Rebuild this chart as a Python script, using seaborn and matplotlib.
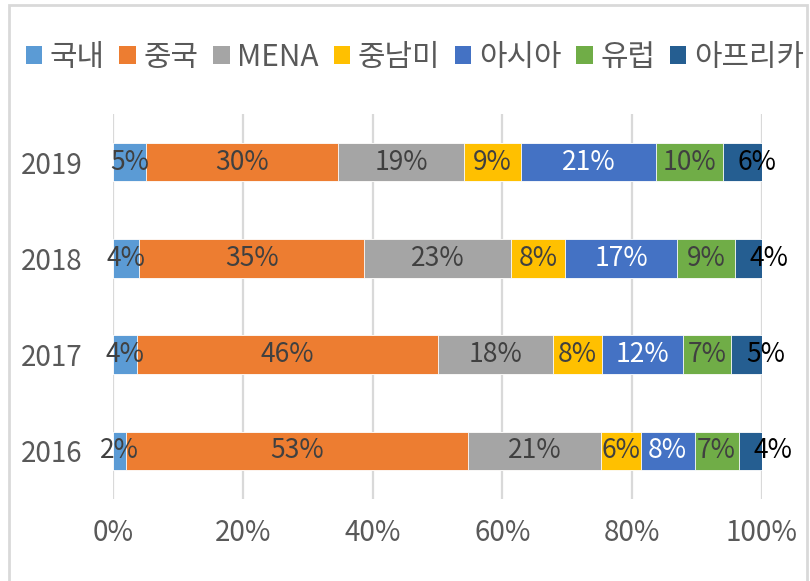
import numpy as np
import pandas as pd
import matplotlib
matplotlib.use("Agg")
import matplotlib.pyplot as plt
import seaborn as sns
from matplotlib.patches import Patch, Rectangle

# data (percent shares per year)
years = ["2019", "2018", "2017", "2016"]
regions = ["국내", "중국", "MENA", "중남미", "아시아", "유럽", "아프리카"]
domestic = [5.1, 4.0, 3.7, 2.0]
china = [29.6, 34.7, 46.4, 52.7]
mena = [19.4, 22.6, 17.7, 20.6]
latam = [8.8, 8.4, 7.6, 6.1]
asia = [20.8, 17.2, 12.4, 8.3]
europe = [10.3, 8.9, 7.4, 6.8]
africa = [6.0, 4.2, 4.8, 3.6]

colors = ["#5B9BD5", "#ED7D31", "#A5A5A5", "#FFC000", "#4472C4", "#70AD47", "#255E91"]
label_colors = ["#404040", "#404040", "#404040", "#404040", "white", "#404040", "black"]

sns.set_style("white")
plt.rcParams["font.family"] = ["Noto Sans CJK KR", "DejaVu Sans"]

df = pd.DataFrame({"year": years, "국내": domestic, "중국": china, "MENA": mena,
                   "중남미": latam, "아시아": asia, "유럽": europe, "아프리카": africa})
shares = df[regions].div(df[regions].sum(axis=1), axis=0) * 100
cum = shares.cumsum(axis=1)
cum["year"] = df["year"]

fig = plt.figure(figsize=(8.1, 5.81), dpi=100)
ax = fig.add_axes([113 / 810, 1 - 499 / 581, (762 - 113) / 810, (499 - 114) / 581])

# stacked bars: draw cumulative totals from last to first
for i in reversed(range(len(regions))):
    sns.barplot(data=cum, x=regions[i], y="year", order=years, orient="h",
                color=colors[i], saturation=1, width=0.4, ax=ax,
                edgecolor="white", linewidth=0.6)

# data labels
for j in range(len(years)):
    for i, r in enumerate(regions):
        left = cum.loc[j, r] - shares.loc[j, r]
        txt = f"{round(df.loc[j, r])}%"
        if r == "아프리카":
            ax.text(left + 2.3, j, txt, ha="left", va="center", fontsize=19,
                    color=label_colors[i])
        else:
            ax.text(left + shares.loc[j, r] / 2, j, txt, ha="center", va="center",
                    fontsize=19, color=label_colors[i])

ax.set_xlim(0, 100)
ax.set_ylim(3.5, -0.5)
ax.set_xticks(np.arange(0, 101, 20))
ax.set_xticklabels([f"{t}%" for t in range(0, 101, 20)])
ax.set_xlabel("")
ax.set_ylabel("")
ax.xaxis.grid(True, color="#d9d9d9", linewidth=1.6)
ax.set_axisbelow(True)
for s in ax.spines.values():
    s.set_visible(False)
ax.tick_params(axis="y", length=0, pad=22, labelsize=20, labelcolor="#595959")
ax.tick_params(axis="x", length=0, pad=14, labelsize=20, labelcolor="#595959")

handles = [Patch(facecolor=c, edgecolor="none") for c in colors]
fig.legend(handles, regions, loc="center", bbox_to_anchor=(0.512, 1 - 57 / 581),
           ncol=7, frameon=False, fontsize=21.5, handlelength=0.55, handleheight=0.55,
           handletextpad=0.25, columnspacing=0.5, labelcolor="#595959")

# chart area border
fig.add_artist(Rectangle((9 / 810, -0.05), 798 / 810, 1.05 - 5 / 581,
                         transform=fig.transFigure, fill=False,
                         edgecolor="#d9d9d9", linewidth=2))

fig.savefig("out.png", dpi=100)
